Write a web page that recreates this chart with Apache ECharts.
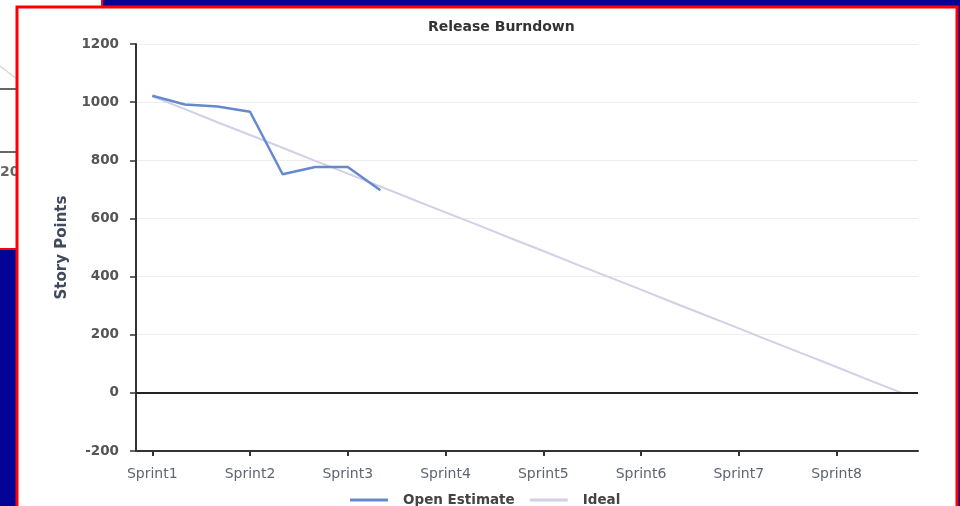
<!DOCTYPE html>
<html>
<head>
<meta charset="utf-8">
<title>Release Burndown</title>
<script src="https://cdn.jsdelivr.net/npm/echarts@6/dist/echarts.min.js"></script>
<style>
  html, body { margin: 0; padding: 0; background: #020296; }
  #chart { width: 960px; height: 506px; }
</style>
</head>
<body>
<div id="chart"></div>
<script>
// Sprint names shown on the x axis; each sprint spans three reporting periods.
const sprints = ['Sprint1', 'Sprint2', 'Sprint3', 'Sprint4', 'Sprint5', 'Sprint6', 'Sprint7', 'Sprint8'];
const periodsPerSprint = 3;

// Remaining story points reported so far (one value per period).
const openEstimate = [1022, 992, 985, 967, 752, 777, 777, 697];

// Planned burn from the starting estimate down to zero.
const ideal = [1020, 976, 931, 887, 843, 798, 754, 710, 665, 621, 577, 532,
               488, 443, 399, 355, 310, 266, 222, 177, 133, 89, 44, 0];

const yTicks = { min: -200, max: 1200, step: 200 };

// One category per period; only the first period of each sprint carries a label.
const periods = [];
sprints.forEach(function (s) {
  for (let k = 0; k < periodsPerSprint; k++) {
    periods.push(k === 0 ? s : s + ' p' + (k + 1));
  }
});

const chart = echarts.init(document.getElementById('chart'));

const option = {
  animation: false,
  backgroundColor: '#020296',
  textStyle: { fontFamily: 'DejaVu Sans' },
  graphic: [
    // small panel peeking out at the top left
    { type: 'rect', z: -10, shape: { x: -5, y: -5, width: 107, height: 254 },
      style: { fill: '#ffffff', stroke: '#ff0000', lineWidth: 2 } },
    { type: 'line', z: -9, shape: { x1: 0, y1: 66, x2: 17, y2: 79 },
      style: { stroke: '#d8d8d8', lineWidth: 1.5 } },
    { type: 'line', z: -9, shape: { x1: 0, y1: 89, x2: 17, y2: 89 },
      style: { stroke: '#333333', lineWidth: 1.5 } },
    { type: 'line', z: -9, shape: { x1: 0, y1: 152, x2: 17, y2: 152 },
      style: { stroke: '#333333', lineWidth: 1.5 } },
    { type: 'text', z: -9, style: { x: 0, y: 165, text: '20', fill: '#666666',
      font: 'bold 14px "DejaVu Sans"' } },
    // main panel
    { type: 'rect', z: -8, shape: { x: 17, y: 7, width: 940, height: 505 },
      style: { fill: '#ffffff', stroke: '#ff0000', lineWidth: 3 } }
  ],
  title: {
    text: 'Release Burndown',
    left: 428,
    top: 20,
    padding: 0,
    textStyle: { fontFamily: 'DejaVu Sans', fontSize: 14, fontWeight: 'bold', color: '#333333' }
  },
  legend: {
    left: 345,
    top: 488,
    icon: 'rect',
    itemWidth: 38,
    itemHeight: 3,
    itemGap: 15,
    data: ['Open Estimate', 'Ideal'],
    textStyle: { fontFamily: 'DejaVu Sans', fontSize: 13.5, fontWeight: 'bold', color: '#444444',
      padding: [0, 0, 0, 10] }
  },
  grid: {
    left: 136, right: 42, top: 44, bottom: 55,
    containLabel: false,
    outerBoundsMode: 'none'
  },
  xAxis: {
    type: 'category',
    boundaryGap: true,
    data: periods,
    axisLine: { show: true, onZero: false, lineStyle: { color: '#333333', width: 2 } },
    axisTick: { show: true, alignWithLabel: true, interval: periodsPerSprint - 1, length: 5,
      lineStyle: { color: '#333333', width: 2 } },
    axisLabel: { interval: periodsPerSprint - 1, margin: 16, fontSize: 14, color: '#5f6670',
      fontFamily: 'DejaVu Sans' },
    splitLine: { show: false }
  },
  yAxis: {
    type: 'value',
    min: yTicks.min,
    max: yTicks.max,
    interval: yTicks.step,
    name: 'Story Points',
    nameLocation: 'middle',
    nameGap: 66,
    nameTextStyle: { fontFamily: 'DejaVu Sans', fontSize: 15, fontWeight: 'bold', color: '#3f4a5c' },
    axisLine: { show: true, lineStyle: { color: '#333333', width: 2 } },
    axisTick: { show: true, length: 6, lineStyle: { color: '#333333', width: 1.5 } },
    axisLabel: { margin: 17, fontSize: 13.5, fontWeight: 'bold', color: '#555555',
      fontFamily: 'DejaVu Sans',
      formatter: function (v) { return String(v); } },
    splitLine: { show: true, lineStyle: { color: '#eeeeee', width: 1 } }
  },
  series: [
    {
      name: 'Ideal',
      type: 'line',
      data: ideal,
      symbol: 'none',
      z: 2,
      color: '#d0d0e6',
      lineStyle: { color: '#d0d0e6', width: 2 },
      markLine: {
        silent: true,
        symbol: 'none',
        label: { show: false },
        lineStyle: { color: '#222222', width: 2, type: 'solid' },
        data: [{ yAxis: 0 }]
      }
    },
    {
      name: 'Open Estimate',
      type: 'line',
      data: openEstimate,
      symbol: 'none',
      z: 3,
      color: '#6688cc',
      lineStyle: { color: '#6688cc', width: 2.5 }
    }
  ]
};

chart.setOption(option);
</script>
</body>
</html>
